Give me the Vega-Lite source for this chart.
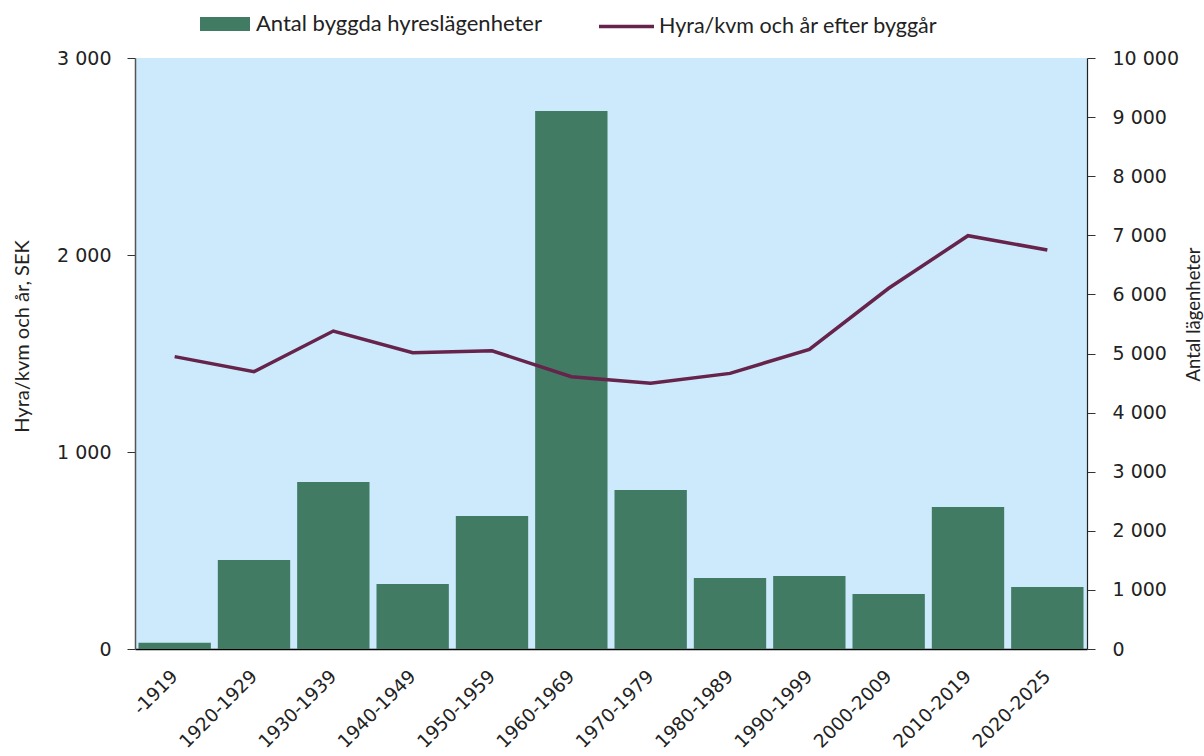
{
  "$schema": "https://vega.github.io/schema/vega-lite/v6.json",
  "width": 952,
  "height": 591,
  "autosize": {"type": "none"},
  "padding": {"left": 135, "top": 58, "right": 117, "bottom": 107},
  "background": "white",
  "config": {
    "view": {"fill": "#cceafb", "stroke": null},
    "axis": {"grid": false, "labelFont": "DejaVu Sans", "titleFont": "Lato", "titleFontWeight": "normal", "labelColor": "#222222", "titleColor": "#222222"},
    "legend": {"labelFont": "Lato", "labelFontSize": 21, "labelColor": "#222222", "padding": 0, "labelLimit": 0}
  },
  "data": {
    "values": [
      {"period": "-1919", "antal": 107, "hyra": 1484},
      {"period": "1920-1929", "antal": 1506, "hyra": 1408},
      {"period": "1930-1939", "antal": 2826, "hyra": 1614},
      {"period": "1940-1949", "antal": 1100, "hyra": 1504},
      {"period": "1950-1959", "antal": 2250, "hyra": 1514},
      {"period": "1960-1969", "antal": 9103, "hyra": 1382},
      {"period": "1970-1979", "antal": 2690, "hyra": 1349},
      {"period": "1980-1989", "antal": 1201, "hyra": 1399},
      {"period": "1990-1999", "antal": 1235, "hyra": 1521},
      {"period": "2000-2009", "antal": 931, "hyra": 1831},
      {"period": "2010-2019", "antal": 2403, "hyra": 2098},
      {"period": "2020-2025", "antal": 1049, "hyra": 2025}
    ]
  },
  "encoding": {
    "x": {
      "field": "period", "type": "nominal", "sort": null,
      "scale": {"paddingInner": 0.088, "paddingOuter": 0.044},
      "axis": {"title": null, "ticks": false, "domainColor": "#000000", "domainWidth": 1.5, "labelAngle": -45, "labelAlign": "right", "labelBaseline": "middle", "labelPadding": 24, "labelFontSize": 18.5, "labelLimit": 0}
    }
  },
  "layer": [
    {
      "mark": {"type": "bar"},
      "encoding": {
        "y": {
          "field": "antal", "type": "quantitative",
          "scale": {"domain": [0, 10000], "nice": false},
          "axis": {"orient": "right", "title": "Antal lägenheter", "values": [0,1000,2000,3000,4000,5000,6000,7000,8000,9000,10000],
            "labelExpr": "replace(format(datum.value, ','), ',', ' ')", "labelFontSize": 19, "labelPadding": 17, "tickSize": 8, "tickColor": "#333333", "domainColor": "#222222", "domainWidth": 1.2,
            "titleFontSize": 18.5, "titleAngle": 270, "titleX": 106, "titleY": 256, "titleAlign": "center", "titleBaseline": "middle"}
        },
        "fill": {
          "datum": "Antal byggda hyreslägenheter",
          "scale": {"range": ["#417b64"]},
          "legend": {"title": null, "orient": "none", "legendX": 65, "legendY": -59, "symbolType": "M-1,-0.28L1,-0.28L1,0.28L-1,0.28Z", "symbolSize": 2500, "symbolStrokeWidth": 0, "labelOffset": 6, "labelFontSize": 22, "labelLimit": 0}
        }
      }
    },
    {
      "mark": {"type": "line", "strokeWidth": 3.5},
      "encoding": {
        "y": {
          "field": "hyra", "type": "quantitative",
          "scale": {"domain": [0, 3000], "nice": false},
          "axis": {"orient": "left", "title": "Hyra/kvm och år, SEK", "values": [0,1000,2000,3000],
            "labelExpr": "replace(format(datum.value, ','), ',', ' ')", "labelFontSize": 19, "labelPadding": 16, "tickSize": 8, "tickColor": "#333333", "domainColor": "#555555", "domainWidth": 1.5,
            "titleFontSize": 20, "titleAngle": 270, "titleX": -113, "titleY": 278, "titleAlign": "center", "titleBaseline": "middle"}
        },
        "stroke": {
          "datum": "Hyra/kvm och år efter byggår",
          "scale": {"range": ["#66234b"]},
          "legend": {"title": null, "orient": "none", "legendX": 462, "legendY": -61, "symbolType": "stroke", "symbolSize": 3025, "symbolStrokeWidth": 3.5, "labelOffset": 3, "labelFontSize": 21.5, "labelLimit": 0}
        }
      }
    }
  ],
  "resolve": {"scale": {"y": "independent"}}
}
